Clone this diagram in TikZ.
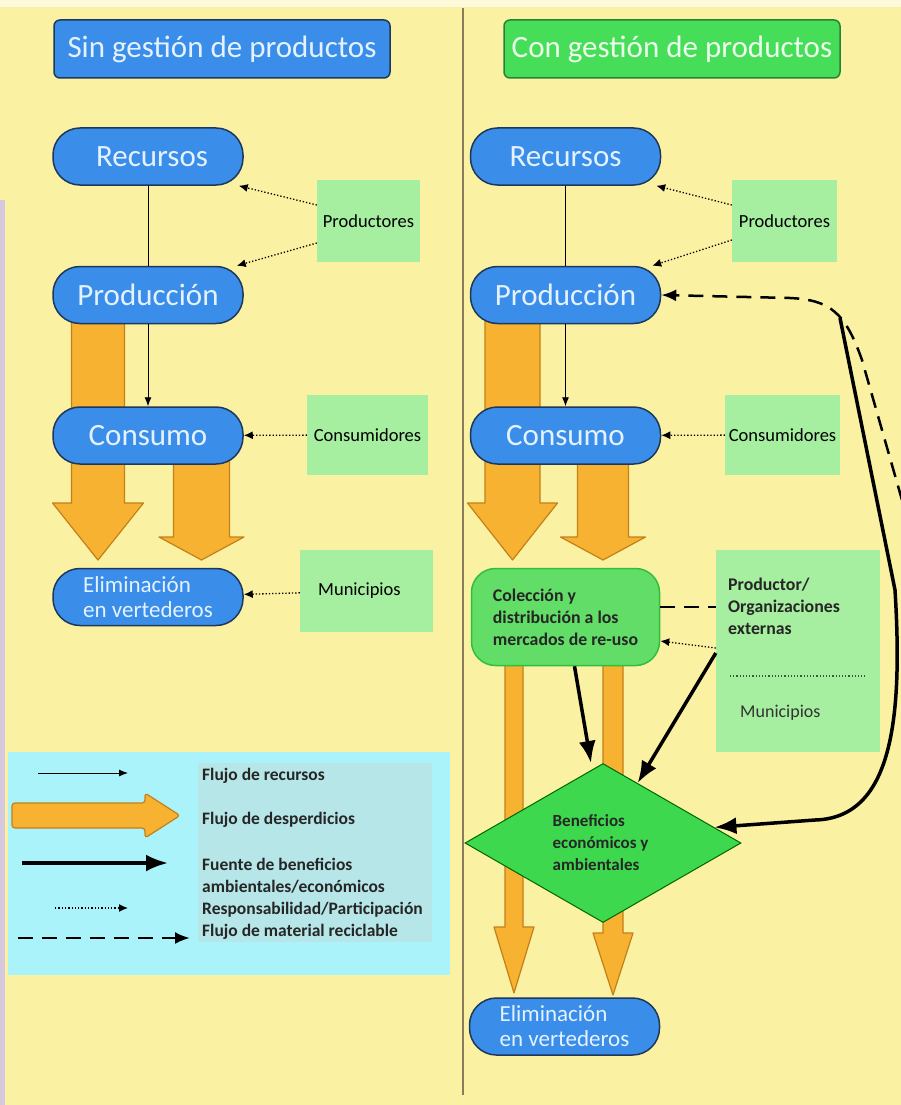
\documentclass[tikz,border=0pt]{standalone}
\usepackage{fontspec}
\setmainfont{Carlito}
\usepackage{tikz}
\usetikzlibrary{shapes.geometric, arrows.meta, positioning, calc}

\definecolor{paper}{RGB}{250,241,162}
\definecolor{edgestrip}{RGB}{214,200,222}
\definecolor{stageblue}{RGB}{58,142,234}
\definecolor{stageline}{RGB}{30,55,90}
\definecolor{stagetxt}{RGB}{228,242,255}
\definecolor{headgreen}{RGB}{70,222,88}
\definecolor{headline}{RGB}{40,130,50}
\definecolor{actorgreen}{RGB}{166,238,160}
\definecolor{colgreen}{RGB}{98,222,104}
\definecolor{colline}{RGB}{50,190,60}
\definecolor{diagreen}{RGB}{62,216,78}
\definecolor{wasteorange}{RGB}{246,178,48}
\definecolor{wasteedge}{RGB}{196,128,24}
\definecolor{legendbg}{RGB}{170,243,250}
\definecolor{legendin}{RGB}{182,230,232}
\definecolor{divider}{RGB}{140,122,92}

\tikzset{
  stage/.style={draw=stageline, fill=stageblue, line width=1.5pt, rounded corners=27pt,
    minimum width=190pt, minimum height=57pt, text=stagetxt, font=\fontsize{31}{34}\selectfont},
  headbox/.style={draw=stageline, line width=1.5pt, rounded corners=6pt,
    minimum width=336pt, minimum height=58pt, font=\fontsize{31}{34}\selectfont},
  actor/.style={fill=actorgreen, inner sep=0pt, font=\fontsize{18.5}{22}\selectfont},
  resource/.style={line width=0.9pt, -{Latex[length=9pt,width=7pt]}},
  resp/.style={dotted, line width=1.3pt, -{Latex[length=9pt,width=8pt]}},
  benefit/.style={line width=3.5pt, -{Latex[length=22pt,width=17pt]}},
  recycle/.style={line width=2.5pt, dash pattern=on 15pt off 9pt, -{Latex[length=15pt,width=12pt]}},
  waste/.style={fill=wasteorange, draw=wasteedge, line width=1.2pt, line join=round}
}

% waste arrow: centre x, half shaft, top y, head y, half head, tip y
\newcommand{\wastearrow}[6]{%
  \filldraw[waste] ({#1-#2},#3) -- ({#1-#2},#4) -- ({#1-#5},#4) -- (#1,#6)
    -- ({#1+#5},#4) -- ({#1+#2},#4) -- ({#1+#2},#3) -- cycle;}

\begin{document}
\begin{tikzpicture}[x=1pt, y=-1pt]
    % Background
    \useasboundingbox (0,0) rectangle (901,1105);
    \fill[paper] (0,0) rectangle (901,1105);
    \fill[white!60!paper] (0,0) rectangle (901,7);
    \fill[edgestrip] (0,200) rectangle (5,1105);
    \draw[divider, line width=1.5pt] (463,8) -- (463,1095);

    % Waste flows (behind the stages)
    \wastearrow{98}{26.5}{318}{503}{45.5}{560}
    \wastearrow{201.5}{28}{455}{537}{42.5}{560}
    \wastearrow{512.5}{27.5}{318}{503}{45}{560}
    \wastearrow{603}{25.5}{455}{537}{42.5}{560}
    \wastearrow{514}{9}{655}{927}{20}{993}
    \wastearrow{613}{10}{655}{933}{20}{995}

    % Titles
    \node[headbox, fill=stageblue, text=stagetxt] (TitleL) at (222,49) {Sin gestión de productos};
    \node[headbox, fill=headgreen, draw=headline, text=green!8!white] (TitleR) at (672,49) {Con gestión de productos};

    % Stages without management
    \node[stage] (RecL) at (148,156.5) {\hspace*{8pt}Recursos};
    \node[stage, below=80pt of RecL] (ProdL) {Producción};
    \node[stage, below=82pt of ProdL] (ConL) {Consumo};
    \node[stage, below=103pt of ConL, align=left, font=\fontsize{23}{25}\selectfont] (ElimL) {Eliminación\\en vertederos};

    % Stages with management
    \node[stage, right=226pt of RecL] (RecR) {Recursos};
    \node[stage, below=80pt of RecR] (ProdR) {Producción};
    \node[stage, below=82pt of ProdR] (ConR) {Consumo};
    \node[draw=colline, fill=colgreen, line width=1.5pt, rounded corners=24pt, minimum width=188pt,
      minimum height=97pt, align=left, text=black!85, font=\bfseries\fontsize{17.8}{22}\selectfont,
      below=103pt of ConR] (Col) {Colección y\\distribución a los\\mercados de re-uso};
    \node[diamond, draw=green!40!black, fill=diagreen, line width=1pt, inner sep=0pt,
      minimum width=276pt, minimum height=159pt, align=left, text=black!85,
      font=\bfseries\fontsize{17}{22}\selectfont] (Dia) at (603,843) {Beneficios\\económicos y\\ambientales\hspace*{14pt}};
    \node[stage, align=left, font=\fontsize{23}{25}\selectfont] (ElimR) at (564.5,1026.5) {Eliminación\\en vertederos};

    % Actors
    \node[actor, minimum width=103pt, minimum height=82pt] (ProdsL) at (368.5,221) {Productores};
    \node[actor, minimum width=121pt, minimum height=80pt] (ConsL) at (367.5,435) {Consumidores};
    \node[actor, minimum width=133pt, minimum height=82pt] (MunL) at (366.5,591) {Municipios\hspace*{14pt}};
    \node[actor, minimum width=105pt, minimum height=82pt] (ProdsR) at (784.5,221) {Productores};
    \node[actor, minimum width=115pt, minimum height=80pt] (ConsR) at (782.5,435) {Consumidores};
    \node[actor, minimum width=164pt, minimum height=202pt] (ProdOrg) at (798,651) {};
    \node[anchor=north west, align=left, inner sep=0pt, text=black!85,
      font=\bfseries\fontsize{17.8}{22}\selectfont] (OrgTxt) at (728,578) {Productor/\\Organizaciones\\externas};
    \node[anchor=west, inner sep=0pt, font=\fontsize{18}{20}\selectfont, text=black!80] (MunR) at (740,713) {Municipios};
    \draw[dotted, line width=1.2pt, black!70] (730,676) -- (865,676);

    % Resource flows
    \draw[line width=0.9pt] (RecL) -- (ProdL);
    \draw[resource] (ProdL) -- (ConL);
    \draw[line width=0.9pt] (RecR) -- (ProdR);
    \draw[resource] (ProdR) -- (ConR);

    % Responsibility
    \draw[resp] ([yshift=16pt]ProdsL.west) -- ([xshift=-5pt]RecL.south east);
    \draw[resp] ([yshift=-22pt]ProdsL.west) -- ([xshift=-7pt]ProdL.north east);
    \draw[resp] (ConsL) -- (ConL);
    \draw[resp] (MunL) -- (ElimL);
    \draw[resp] ([yshift=16pt]ProdsR.west) -- ([xshift=-5pt]RecR.south east);
    \draw[resp] ([yshift=-19pt]ProdsR.west) -- ([xshift=-9pt]ProdR.north east);
    \draw[resp] (ConsR) -- (ConR);
    \draw[resp] ([yshift=3pt]ProdOrg.west) -- ([yshift=-24pt]Col.east);

    % Recyclable material and benefits
    \coordinate (ColOut) at ([yshift=10pt]Col.east);
    \draw[line width=2.5pt, dash pattern=on 15pt off 9pt] (ColOut) -- (ColOut -| ProdOrg.west);
    \coordinate (RecIn) at (902,500);
    \draw[recycle] (RecIn) -- (862,360) .. controls (845,312) and (830,300) .. (790,298) -- (ProdR.east);
    \coordinate (BenTop) at (840,318);
    \draw[benefit] (BenTop) -- (895,590) .. controls (903,720) and (892,818) .. (815,820) -- (Dia.8);
    \draw[benefit] ([xshift=9pt]Col.south) -- ([xshift=-12pt]Dia.north);
    \draw[benefit] ([yshift=-2pt]ProdOrg.west) -- (Dia.60);

    % Legend
    \fill[legendbg] (8,752) rectangle (450,975);
    \fill[legendin] (198,763) rectangle (432,942);
    \coordinate (lgRes1) at (38,773);  \coordinate (lgRes2) at (128,773);
    \coordinate (lgBen1) at (22,863);  \coordinate (lgBen2) at (168,863);
    \coordinate (lgResp1) at (55,908); \coordinate (lgResp2) at (128,908);
    \coordinate (lgRec1) at (18,938);  \coordinate (lgRec2) at (190,938);
    \draw[resource] (lgRes1) -- (lgRes2);
    \filldraw[waste, rounded corners=3pt] (12,803) -- (145,803) -- (145,793) -- (180,815.5)
      -- (145,838) -- (145,828) -- (12,828) -- cycle;
    \draw[benefit] (lgBen1) -- (lgBen2);
    \draw[resp] (lgResp1) -- (lgResp2);
    \draw[recycle] (lgRec1) -- (lgRec2);
    \begin{scope}[every node/.style={anchor=west, inner sep=0pt, text=black!85,
        font=\bfseries\fontsize{17.5}{22}\selectfont}]
      \node (lgResTxt) at (202,776) {Flujo de recursos};
      \node (lgWasTxt) at (202,820) {Flujo de desperdicios};
      \node[align=left] (lgBenTxt) at (202,876) {Fuente de beneficios\\ambientales/económicos};
      \node (lgRespTxt) at (202,910) {Responsabilidad/Participación};
      \node (lgRecTxt) at (202,932) {Flujo de material reciclable};
    \end{scope}
\end{tikzpicture}
\end{document}
